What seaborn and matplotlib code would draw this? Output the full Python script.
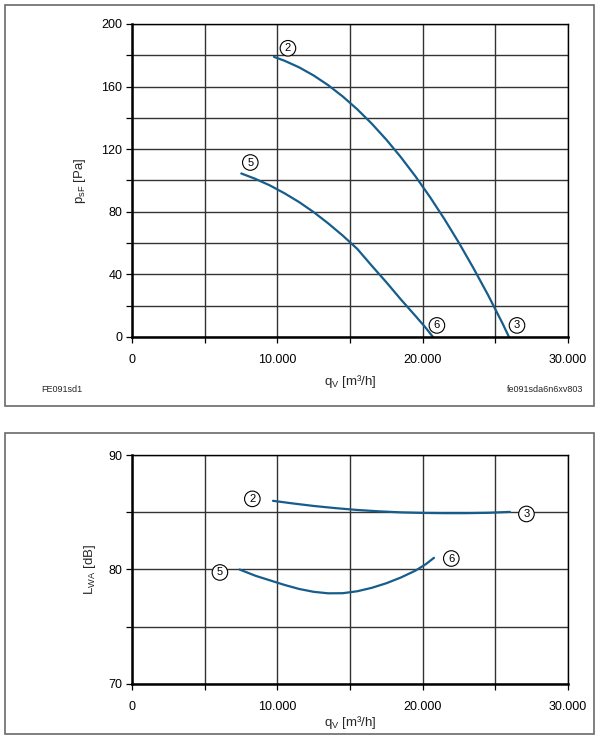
import matplotlib
matplotlib.use("Agg")
import matplotlib.pyplot as plt
import matplotlib.patches as mpatches
from matplotlib.ticker import MultipleLocator, FuncFormatter
import seaborn as sns

# === data ===

# static pressure curves (top)
q_23 = [9770, 10500, 11500, 12500, 13500, 14500, 15500, 16500, 17500, 18500,
        19500, 20500, 21500, 22500, 23500, 24500, 25500, 25940]
p_23 = [179, 176.5, 172.3, 167.1, 160.9, 153.7, 145.5, 136.3, 126.1, 114.9,
        102.7, 89.5, 75.3, 60.1, 43.9, 26.8, 8.6, 0]
q_56 = [7520, 8500, 9500, 10500, 11500, 12500, 13500, 14500, 15500, 16500,
        17500, 18500, 19500, 20200, 20710]
p_56 = [104.5, 101.0, 96.8, 91.8, 86.2, 79.8, 72.6, 64.8, 56.3, 45.5,
        35.0, 24.0, 13.5, 6.0, 0]

# sound power curves (bottom)
q_23_snd = [9700, 11000, 12500, 14000, 15500, 17000, 18500, 20000, 21500, 23000, 24500, 26000]
L_23 = [86.0, 85.78, 85.55, 85.36, 85.2, 85.08, 84.99, 84.94, 84.92, 84.92, 84.95, 85.03]
q_56_snd = [7400, 8500, 9500, 10500, 11500, 12500, 13500, 14500, 15500, 16500,
            17500, 18500, 19500, 20200, 20780]
L_56 = [80.0, 79.45, 79.05, 78.65, 78.3, 78.05, 77.92, 77.93, 78.1, 78.4,
        78.8, 79.3, 79.9, 80.45, 81.02]

# point markers (label, q, value)
top_marks = [("2", 10730, 184.5), ("5", 8140, 111.5), ("6", 20980, 7.4), ("3", 26490, 7.4)]
bot_marks = [("2", 8280, 86.17), ("5", 6050, 79.74), ("3", 27140, 84.85), ("6", 21970, 80.96)]

# === styling ===
sns.set_theme(style="white")
plt.rcParams["font.family"] = ["Liberation Sans", "DejaVu Sans"]
plt.rcParams["mathtext.fontset"] = "custom"
plt.rcParams["mathtext.rm"] = "Liberation Sans"
plt.rcParams["mathtext.it"] = "Liberation Sans"

LINE = "#165d8c"
GRID = "#333333"

W, H = 605, 743
fig = plt.figure(figsize=(W / 100, H / 100), dpi=100)
fig.patch.set_facecolor("white")

# outer frames
for (y0, y1) in [(5, 406), (433, 734)]:
    fig.add_artist(mpatches.Rectangle((5 / W, 1 - y1 / H), 589 / W, (y1 - y0) / H,
                                      transform=fig.transFigure, fill=False,
                                      edgecolor="#6a6a6a", linewidth=1.2))

thousands = FuncFormatter(lambda v, pos: "0" if v == 0 else f"{int(v):,}".replace(",", "."))


def style_axes(ax, ymin, ymax, ymaj, ymin_step):
    ax.set_xlim(0, 30000)
    ax.set_ylim(ymin, ymax)
    ax.xaxis.set_major_locator(MultipleLocator(10000))
    ax.xaxis.set_minor_locator(MultipleLocator(5000))
    ax.yaxis.set_major_locator(MultipleLocator(ymaj))
    ax.yaxis.set_minor_locator(MultipleLocator(ymin_step))
    ax.xaxis.set_major_formatter(thousands)
    ax.grid(True, which="both", color=GRID, linewidth=1.0)
    ax.set_axisbelow(True)
    for s in ["left", "bottom"]:
        ax.spines[s].set_linewidth(1.8)
        ax.spines[s].set_color("black")
    for s in ["top", "right"]:
        ax.spines[s].set_linewidth(1.0)
        ax.spines[s].set_color("black")
    ax.tick_params(which="both", direction="out", length=4, width=0.9, color="black",
                   labelsize=9, pad=3, bottom=True, left=True, labelcolor="black")
    ax.tick_params(axis="x", which="both", pad=8)


def circled(ax, marks):
    for lab, x, y in marks:
        ax.text(x, y, lab, ha="center", va="center", fontsize=8, color="black",
                bbox=dict(boxstyle="circle,pad=0.25", fc="white", ec="black", lw=0.8),
                zorder=5, clip_on=False)


# top: pressure
ax1 = fig.add_axes([132 / W, 1 - 337 / H, 436 / W, 313 / H])
sns.lineplot(x=q_23, y=p_23, sort=False, estimator=None, color=LINE, linewidth=1.6, ax=ax1)
sns.lineplot(x=q_56, y=p_56, sort=False, estimator=None, color=LINE, linewidth=1.6, ax=ax1)
style_axes(ax1, 0, 200, 40, 20)
circled(ax1, top_marks)
ax1.set_xlabel("q$_\\mathregular{V}$ [m³/h]", fontsize=9.5)
ax1.set_ylabel("p$_\\mathregular{sF}$ [Pa]", fontsize=9.5)
ax1.xaxis.set_label_coords(0.5, -0.115)
ax1.yaxis.set_label_coords(-0.1, 0.5)

# bottom: sound power
ax2 = fig.add_axes([132 / W, 1 - 684 / H, 436 / W, 229 / H])
sns.lineplot(x=q_23_snd, y=L_23, sort=False, estimator=None, color=LINE, linewidth=1.6, ax=ax2)
sns.lineplot(x=q_56_snd, y=L_56, sort=False, estimator=None, color=LINE, linewidth=1.6, ax=ax2)
style_axes(ax2, 70, 90, 10, 5)
circled(ax2, bot_marks)
ax2.set_xlabel("q$_\\mathregular{V}$ [m³/h]", fontsize=9.5)
ax2.set_ylabel("L$_\\mathregular{WA}$ [dB]", fontsize=9.5)
ax2.xaxis.set_label_coords(0.5, -0.13)
ax2.yaxis.set_label_coords(-0.078, 0.5)

# drawing codes
fig.text(41 / W, 1 - 389 / H, "FE091sd1", fontsize=6.5, ha="left", va="center")
fig.text(583 / W, 1 - 390 / H, "fe091sda6n6xv803", fontsize=6.5, ha="right", va="center")

fig.savefig("out.png", dpi=100)
